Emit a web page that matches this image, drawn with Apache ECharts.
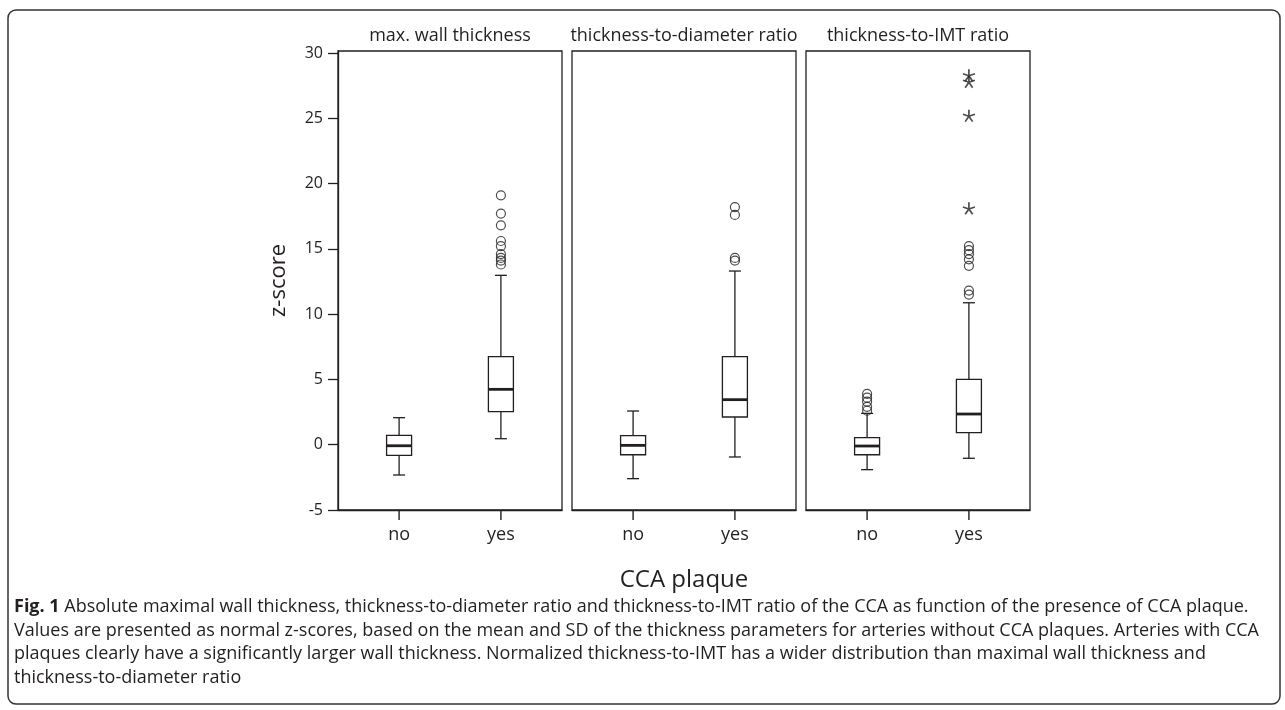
<!DOCTYPE html>
<html>
<head>
<meta charset="utf-8">
<script src="https://cdn.jsdelivr.net/npm/echarts@6/dist/echarts.min.js"></script>
<style>
  html, body { margin: 0; padding: 0; background: #fff; }
  #chart { width: 1285px; height: 710px; }
</style>
</head>
<body>
<div id="chart"></div>
<script>
// panels and groups
const panelTitles = ['max. wall thickness', 'thickness-to-diameter ratio', 'thickness-to-IMT ratio']
const groups = ['no', 'yes']
const yTicks = [-5, 0, 5, 10, 15, 20, 25, 30]
const yMin = -5
const yMax = 30.15

// box stats: [lower whisker, Q1, median, Q3, upper whisker]
const wallNo = [-2.32, -0.81, -0.08, 0.72, 2.07]
const wallYes = [0.46, 2.53, 4.24, 6.74, 12.97]
const diamNo = [-2.6, -0.77, -0.05, 0.69, 2.58]
const diamYes = [-0.94, 2.12, 3.45, 6.74, 13.3]
const imtNo = [-1.91, -0.77, -0.1, 0.54, 2.4]
const imtYes = [-1.04, 0.92, 2.35, 5.01, 10.87]

// outliers (circles) and extremes (stars)
const wallNoOut = []
const wallYesOut = [19.1, 17.7, 16.8, 15.6, 15.2, 14.6, 14.3, 14.1, 13.8]
const diamNoOut = []
const diamYesOut = [18.2, 17.6, 14.3, 14.1]
const imtNoOut = [3.9, 3.6, 3.3, 2.9, 2.6]
const imtYesOut = [15.2, 14.9, 14.6, 14.2, 13.7, 11.8, 11.5]
const imtYesExt = [28.3, 27.8, 25.2, 18.1]

const boxes = [[wallNo, wallYes], [diamNo, diamYes], [imtNo, imtYes]]
const outliers = [[wallNoOut, wallYesOut], [diamNoOut, diamYesOut], [imtNoOut, imtYesOut]]
const extremes = [[[], []], [[], []], [[], imtYesExt]]

const captionLines = [
  '{b|Fig. 1} Absolute maximal wall thickness, thickness-to-diameter ratio and thickness-to-IMT ratio of the CCA as function of the presence of CCA plaque.',
  'Values are presented as normal z-scores, based on the mean and SD of the thickness parameters for arteries without CCA plaques. Arteries with CCA',
  'plaques clearly have a significantly larger wall thickness. Normalized thickness-to-IMT has a wider distribution than maximal wall thickness and',
  'thickness-to-diameter ratio'
]

const ink = '#231f20'
const font = 'Open Sans'
const starPath = 'path://M0,0L0,-10M0,0L9.51,-3.09M0,0L5.88,8.09M0,0L-5.88,8.09M0,0L-9.51,-3.09'

const gridLefts = [338, 572, 806]
const gridWidth = 224

// draw one box with whiskers, short caps and a thick median
function renderBox(params, api) {
  const x = api.value(0)
  const p = (v) => api.coord([x, v])
  const lo = p(api.value(1))
  const q1 = p(api.value(2))
  const md = p(api.value(3))
  const q3 = p(api.value(4))
  const hi = p(api.value(5))
  const cx = lo[0]
  const hw = 12.5
  const cw = 6
  const line = (x1, y1, x2, y2, w) => ({
    type: 'line',
    shape: { x1, y1, x2, y2 },
    style: { stroke: ink, lineWidth: w }
  })
  return {
    type: 'group',
    children: [
      line(cx, hi[1], cx, q3[1], 1.3),
      line(cx, q1[1], cx, lo[1], 1.3),
      line(cx - cw, hi[1], cx + cw, hi[1], 1.3),
      line(cx - cw, lo[1], cx + cw, lo[1], 1.3),
      {
        type: 'rect',
        shape: { x: cx - hw, y: q3[1], width: hw * 2, height: q1[1] - q3[1] },
        style: { fill: '#fff', stroke: ink, lineWidth: 1.3 }
      },
      line(cx - hw, md[1], cx + hw, md[1], 2.8)
    ]
  }
}

const grid = []
const xAxis = []
const yAxis = []
const series = []
const title = []

panelTitles.forEach((name, i) => {
  grid.push({
    left: gridLefts[i],
    top: 51,
    width: gridWidth,
    height: 459,
    show: true,
    borderColor: ink,
    borderWidth: 1.3,
    backgroundColor: 'transparent'
  })
  title.push({
    text: name,
    left: gridLefts[i] + gridWidth / 2,
    top: 27,
    textAlign: 'center',
    padding: 0,
    textStyle: { fontFamily: font, fontSize: 18, fontWeight: 'normal', color: ink }
  })
  xAxis.push({
    gridIndex: i,
    type: 'value',
    min: 0.4,
    max: 2.6,
    name: i === 1 ? 'CCA plaque' : '',
    nameLocation: 'middle',
    nameGap: 58,
    nameTextStyle: { fontFamily: font, fontSize: 24, color: ink },
    axisLine: { show: true, onZero: false, lineStyle: { color: ink, width: 1.3 } },
    axisTick: { show: false },
    axisLabel: {
      customValues: [1, 2],
      formatter: (v) => groups[Math.round(v) - 1] || '',
      fontFamily: font,
      fontSize: 18,
      color: ink,
      margin: 16
    },
    splitLine: { show: false }
  })
  yAxis.push({
    gridIndex: i,
    type: 'value',
    min: yMin,
    max: yMax,
    show: i === 0,
    name: i === 0 ? 'z-score' : '',
    nameLocation: 'middle',
    nameRotate: 90,
    nameGap: 48,
    nameTextStyle: { fontFamily: font, fontSize: 22, color: ink },
    axisLine: { show: true, onZero: false, lineStyle: { color: ink, width: 1.3 } },
    axisTick: { show: true, length: 10, customValues: yTicks, lineStyle: { color: ink, width: 1.3 } },
    axisLabel: { customValues: yTicks, fontFamily: font, fontSize: 16, color: ink, margin: 15 },
    splitLine: { show: false }
  })
  series.push({
    type: 'custom',
    xAxisIndex: i,
    yAxisIndex: i,
    renderItem: renderBox,
    dimensions: ['g', 'lo', 'q1', 'med', 'q3', 'hi'],
    encode: { x: 0, y: [1, 2, 3, 4, 5] },
    silent: true,
    data: boxes[i].map((b, g) => [g + 1].concat(b))
  })
  const circ = []
  const stars = []
  groups.forEach((g, gi) => {
    outliers[i][gi].forEach((v) => circ.push([gi + 1, v]))
    extremes[i][gi].forEach((v) => stars.push([gi + 1, v]))
  })
  series.push({
    type: 'scatter',
    xAxisIndex: i,
    yAxisIndex: i,
    symbol: 'circle',
    symbolSize: 9,
    silent: true,
    itemStyle: { color: 'transparent', borderColor: ink, borderWidth: 1.2 },
    data: circ
  })
  series.push({
    type: 'scatter',
    xAxisIndex: i,
    yAxisIndex: i,
    symbol: starPath,
    symbolSize: 12,
    silent: true,
    itemStyle: { color: 'transparent', borderColor: ink, borderWidth: 1.7 },
    data: stars
  })
})

const graphic = [
  {
    type: 'rect',
    shape: { x: 8, y: 10, width: 1272, height: 694, r: 8 },
    style: { fill: 'none', stroke: '#333', lineWidth: 1.5 },
    silent: true
  }
]
captionLines.forEach((t, k) => {
  graphic.push({
    type: 'text',
    left: 14,
    top: 598 + k * 23.6,
    silent: true,
    style: {
      text: t,
      fontFamily: font,
      fontSize: 18,
      fill: ink,
      rich: { b: { fontFamily: font, fontSize: 18, fontWeight: 'bold', fill: ink } }
    }
  })
})

const chart = echarts.init(document.getElementById('chart'))
chart.setOption({
  animation: false,
  backgroundColor: '#fff',
  title,
  grid,
  xAxis,
  yAxis,
  series,
  graphic
})

// category ticks below each panel, placed through the axis scales, on their own layer
const tickMarks = []
panelTitles.forEach((name, i) => {
  groups.forEach((g, gi) => {
    let pt = null
    try {
      pt = chart.convertToPixel({ xAxisIndex: i, yAxisIndex: i }, [gi + 1, yMin])
    } catch (e) {
      pt = null
    }
    if (!pt || isNaN(pt[0])) return
    tickMarks.push({
      type: 'rect',
      silent: true,
      zlevel: 1,
      z: 100,
      shape: { x: pt[0] - 0.7, y: pt[1], width: 1.4, height: 10 },
      style: { fill: ink }
    })
  })
})
chart.setOption({ graphic: graphic.concat(tickMarks) })
</script>
</body>
</html>
